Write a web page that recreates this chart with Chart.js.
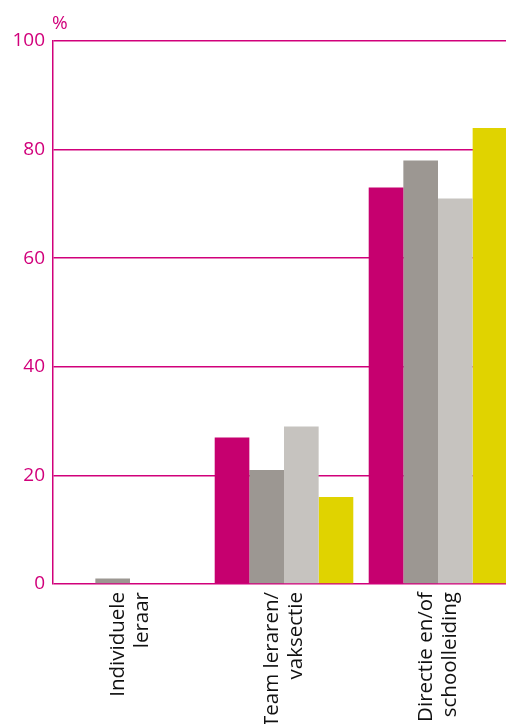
<!DOCTYPE html>
<html><head><meta charset="utf-8">
<script src="https://cdn.jsdelivr.net/npm/chart.js@4/dist/chart.umd.min.js"></script>
<style>
html,body{margin:0;padding:0;background:#fff;overflow:hidden;width:506px;height:724px}
#wrap{width:515px;height:724px;position:relative}
</style></head>
<body><div id="wrap"><canvas id="c"></canvas></div>
<script>
const categories = [["Individuele","leraar"],["Team leraren/","vaksectie"],["Directie en/of","schoolleiding"]];
const series1 = [0, 27, 73];
const series2 = [1, 21, 78];
const series3 = [0, 29, 71];
const series4 = [0, 16, 84];
const yTicks = [0, 20, 40, 60, 80, 100];
const colors = ["#C6006F", "#9C9792", "#C6C3BF", "#E0D300"];
const axisColor = "#D1007B";

const pctPlugin = {
  id: 'pct',
  afterDraw(chart) {
    const ctx = chart.ctx, a = chart.chartArea;
    ctx.save();
    ctx.fillStyle = axisColor;
    ctx.font = '19px "Open Sans"';
    ctx.textAlign = 'left';
    ctx.textBaseline = 'alphabetic';
    ctx.fillText('%', a.left - 1, a.top - 12);
    ctx.restore();
  }
};

new Chart(document.getElementById('c'), {
  type: 'bar',
  data: {
    labels: categories,
    datasets: [series1, series2, series3, series4].map((d, i) => ({
      data: d, backgroundColor: colors[i], borderWidth: 0,
      barPercentage: 1, categoryPercentage: 0.9
    }))
  },
  options: {
    responsive: true, maintainAspectRatio: false, animation: false,
    layout: { padding: { top: 41, right: 0, left: 0, bottom: 0 } },
    plugins: { legend: { display: false }, tooltip: { enabled: false } },
    scales: {
      x: {
        grid: { display: false, drawTicks: false },
        border: { display: false },
        ticks: {
          color: '#111', font: { family: '"Open Sans"', size: 20.5 },
          maxRotation: 90, minRotation: 90, padding: 8, autoSkip: false,
          lineHeight: 1.3, labelOffset: -12
        },
        afterFit(s) { s.height = 140; }
      },
      y: {
        min: 0, max: 100,
        afterBuildTicks(s) { s.ticks = yTicks.map(v => ({ value: v })); },
        grid: { color: axisColor, lineWidth: 1.5, drawTicks: false },
        border: { color: axisColor, width: 1.5 },
        ticks: { color: axisColor, font: { family: '"Open Sans"', size: 19 }, padding: 8 },
        afterFit(s) { s.width = 53; }
      }
    }
  },
  plugins: [pctPlugin]
});
</script></body></html>
